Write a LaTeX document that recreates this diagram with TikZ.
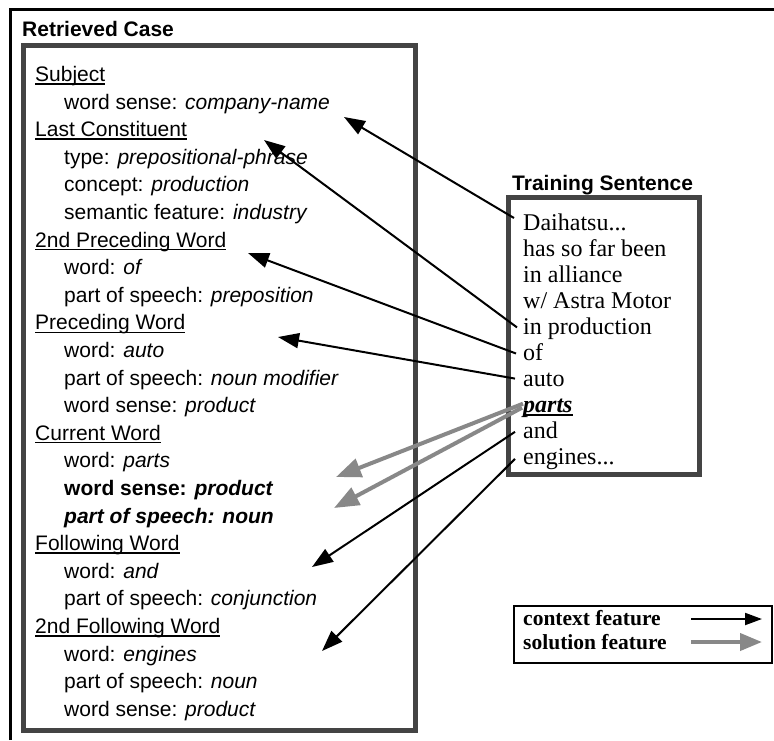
\documentclass[tikz,border=0pt]{standalone}
\usepackage{fontspec}
\setmainfont{Liberation Serif}
\setsansfont{Liberation Sans}
\usetikzlibrary{arrows.meta,calc}

\definecolor{boxgray}{RGB}{68,68,68}
\definecolor{arrgray}{RGB}{136,136,136}

% underline drawn a fixed distance below the baseline (crosses descenders)
\newsavebox\ulinebox
\newcommand\ulword[2][1.3pt]{\sbox\ulinebox{#2}%
  \rlap{\vrule height -1.7pt depth \dimexpr1.7pt+#1\relax width \wd\ulinebox}\usebox\ulinebox}

\begin{document}
\begin{tikzpicture}[x=1pt,y=-1pt,
  every node/.style={inner sep=0pt, anchor=base west},
  casetxt/.style={font=\sffamily\fontsize{21}{21}\selectfont},
  title/.style={font=\sffamily\bfseries\fontsize{21}{21}\selectfont},
  sent/.style={font=\rmfamily\fontsize{24}{24}\selectfont},
  legtxt/.style={font=\rmfamily\bfseries\fontsize{21.5}{21.5}\selectfont},
  casebox/.style={draw=boxgray, line width=5pt},
  ctx/.style={line width=2pt, -{Triangle[length=21pt,width=15pt]}},
  sol/.style={draw=arrgray, line width=4pt, -{Triangle[length=25pt,width=19pt]}},
  ctxkey/.style={line width=2pt, -{Triangle[length=17pt,width=12pt]}},
  solkey/.style={draw=arrgray, line width=4pt, -{Triangle[length=22pt,width=17pt]}},
]
\useasboundingbox (0,0) rectangle (774,740);

% outer frame (top and left edges)
\draw[line width=2.6pt] (10.5,740) -- (10.5,9.3) -- (774,9.3);

% ---------- retrieved case ----------
\node[title] (rctitle) at (22,36) {Retrieved Case};
\draw[casebox] (23,45) rectangle (415,730);

\node[casetxt] (c0)  at (35,81.5)  {\ulword{Subject}};
\node[casetxt] (c1)  at (64,109.1) {word sense: \textit{company-name}};
\node[casetxt] (c2)  at (35,136.7) {\ulword{Last Constituent}};
\node[casetxt] (c3)  at (64,164.3) {type: \textit{prepositional-phrase}};
\node[casetxt] (c4)  at (64,191.9) {concept: \textit{production}};
\node[casetxt] (c5)  at (64,219.5) {semantic feature: \textit{industry}};
\node[casetxt] (c6)  at (35,247.1) {\ulword{2nd Preceding Word}};
\node[casetxt] (c7)  at (64,274.7) {word: \textit{of}};
\node[casetxt] (c8)  at (64,302.3) {part of speech: \textit{preposition}};
\node[casetxt] (c9)  at (35,329.9) {\ulword{Preceding Word}};
\node[casetxt] (c10) at (64,357.5) {word: \textit{auto}};
\node[casetxt] (c11) at (64,385.1) {part of speech: \textit{noun modifier}};
\node[casetxt] (c12) at (64,412.7) {word sense: \textit{product}};
\node[casetxt] (c13) at (35,440.3) {\ulword{Current Word}};
\node[casetxt] (c14) at (64,467.9) {word: \textit{parts}};
\node[casetxt] (c15) at (64,495.5) {\textbf{word sense: \textit{product}}};
\node[casetxt] (c16) at (64,523.1) {\textbf{\textit{part of speech: noun}}};
\node[casetxt] (c17) at (35,550.7) {\ulword{Following Word}};
\node[casetxt] (c18) at (64,578.3) {word: \textit{and}};
\node[casetxt] (c19) at (64,605.9) {part of speech: \textit{conjunction}};
\node[casetxt] (c20) at (35,633.5) {\ulword{2nd Following Word}};
\node[casetxt] (c21) at (64,661.1) {word: \textit{engines}};
\node[casetxt] (c22) at (64,688.7) {part of speech: \textit{noun}};
\node[casetxt] (c23) at (64,716.3) {word sense: \textit{product}};

% ---------- training sentence ----------
\node[title] (tstitle) at (512,190) {Training Sentence};
\draw[casebox] (508,197) rectangle (699,474.5);

\node[sent] (s1)  at (523,230)   {Daihatsu...};
\node[sent] (s2)  at (523,256.1) {has so far been};
\node[sent] (s3)  at (523,282.2) {in alliance};
\node[sent] (s4)  at (523,308.3) {w/ Astra Motor};
\node[sent] (s5)  at (523,334.4) {in production};
\node[sent] (s6)  at (523,360.5) {of};
\node[sent] (s7)  at (523,386.6) {auto};
\node[sent] (s8)  at (523,412.7) {\textbf{\textit{\ulword[1.8pt]{parts}}}};
\node[sent] (s9)  at (523,438.8) {and};
\node[sent] (s10) at (523,464.9) {engines...};

% arrow tips inside the case box
\coordinate (t1) at (344,117);
\coordinate (t2) at (264,140);
\coordinate (t3) at (248,253);
\coordinate (t4) at (278,337);
\coordinate (g1) at (336,477);
\coordinate (g2) at (334,508);
\coordinate (t6) at (312,567);
\coordinate (t7) at (322,651);

% context features
\draw[ctx] ($(s1.base west)+(-9,-12)$)  -- (t1);
\draw[ctx] ($(s5.base west)+(-6,-7)$)   -- (t2);
\draw[ctx] ($(s6.base west)+(-7,-7)$)   -- (t3);
\draw[ctx] ($(s7.base west)+(-8,-8)$)   -- (t4);
\draw[ctx] ($(s9.base west)+(-8,-7)$)   -- (t6);
\draw[ctx] ($(s10.base west)+(-8,-6)$)  -- (t7);
% solution features
\draw[sol] ($(s8.base west)+(0,-9)$)    -- (g1);
\draw[sol] ($(s8.base west)+(-1,-5)$)   -- (g2);

% ---------- legend ----------
\node[draw, line width=1.5pt, anchor=north west, minimum width=258pt,
      minimum height=57pt] (legend) at (513,605) {};
\node[legtxt] (lctx) at (523,625) {context feature};
\node[legtxt] (lsol) at (523,649) {solution feature};
\coordinate (k1a) at (691,619);
\coordinate (k1b) at (762,619);
\coordinate (k2a) at (691,642);
\coordinate (k2b) at (762,642);
\draw[ctxkey] (k1a) -- (k1b);
\draw[solkey] (k2a) -- (k2b);
\end{tikzpicture}
\end{document}
